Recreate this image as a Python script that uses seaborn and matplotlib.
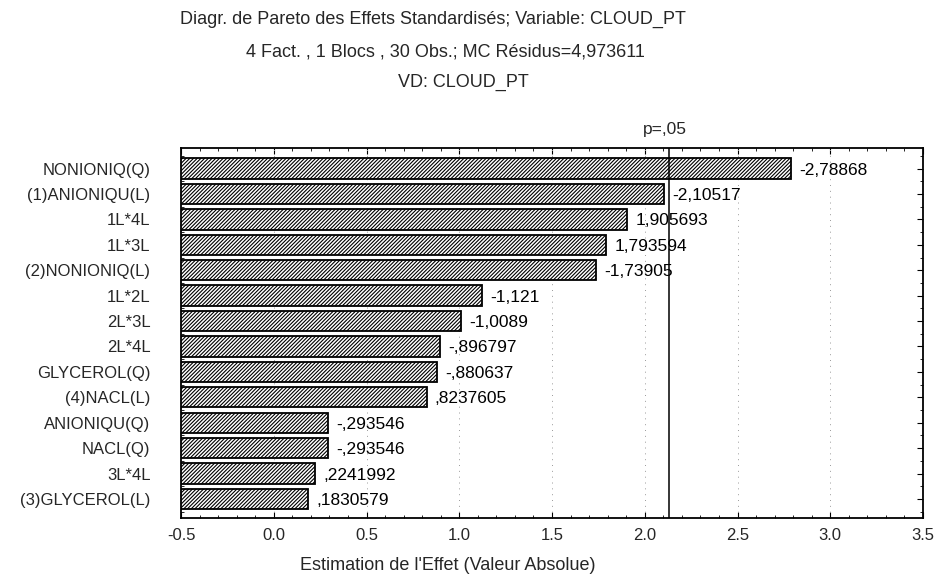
import numpy as np
import pandas as pd
import matplotlib
matplotlib.use("Agg")
import matplotlib.pyplot as plt
from matplotlib.ticker import MultipleLocator
import seaborn as sns

# Pareto chart of standardized effects (Statistica-style)
effects = [
    "NONIONIQ(Q)", "(1)ANIONIQU(L)", "1L*4L", "1L*3L", "(2)NONIONIQ(L)",
    "1L*2L", "2L*3L", "2L*4L", "GLYCEROL(Q)", "(4)NACL(L)",
    "ANIONIQU(Q)", "NACL(Q)", "3L*4L", "(3)GLYCEROL(L)",
]
t_values = [
    -2.78868, -2.10517, 1.905693, 1.793594, -1.73905,
    -1.121, -1.0089, -0.896797, -0.880637, 0.8237605,
    -0.293546, -0.293546, 0.2241992, 0.1830579,
]
x_ticks = [-0.5, 0.0, 0.5, 1.0, 1.5, 2.0, 2.5, 3.0, 3.5]
t_crit = 2.131  # p = .05, 15 residual df

title_lines = [
    "Diagr. de Pareto des Effets Standardisés; Variable: CLOUD_PT",
    "4 Fact. , 1 Blocs , 30 Obs.; MC Résidus=4,973611",
    "VD: CLOUD_PT",
]
x_label = "Estimation de l'Effet (Valeur Absolue)"


def stat_fmt(v):
    s = f"{v:.7g}"
    s = s.replace("-0.", "-.")
    if s.startswith("0."):
        s = s[1:]
    return s.replace(".", ",")


df = pd.DataFrame({"effect": effects, "t": t_values})
df["abs_t"] = df["t"].abs()

sns.set_theme(style="white")
plt.rcParams["font.family"] = ["Liberation Sans", "DejaVu Sans"]
plt.rcParams["hatch.linewidth"] = 0.8

fig = plt.figure(figsize=(9.34, 5.85), dpi=100)
ax = fig.add_axes([181 / 934, 1 - 518 / 585, (923 - 181) / 934, (518 - 148) / 585])

sns.barplot(data=df, y="effect", x="abs_t", orient="h", ax=ax,
            color="white", edgecolor="black", linewidth=1.3,
            hatch="/////////", width=0.8, zorder=3)

# anchor every bar to the left edge of the axis
x0 = x_ticks[0]
for p in ax.patches:
    w = p.get_x() + p.get_width()
    p.set_x(x0)
    p.set_width(w - x0)

for i, v in enumerate(df["t"]):
    ax.text(abs(v) + 0.045, i + 0.06, stat_fmt(v), va="center", ha="left",
            fontsize=12.5, color="black", zorder=4)

ax.axvline(t_crit, color="black", lw=1.1, zorder=5)
ax.text(t_crit - 0.02, -1.55, "p=,05", ha="center", va="center", fontsize=12.5)

ax.set_xlim(x_ticks[0], x_ticks[-1])
ax.set_ylim(len(effects) - 1 + 0.75, -0.81)
ax.set_xticks(x_ticks)
ax.set_xticklabels([f"{t:.1f}" for t in x_ticks])
ax.xaxis.set_minor_locator(MultipleLocator(0.1))
ax.set_yticks(range(len(effects)))
ax.yaxis.set_minor_locator(MultipleLocator(0.5))

for t in x_ticks[1:-1]:
    ax.axvline(t, color="#9a9a9a", lw=0.7, ls=(0, (1, 5)), zorder=1)

ax.tick_params(axis="both", which="both", direction="in", top=True, right=True,
               left=True, bottom=True, color="black")
ax.tick_params(axis="both", which="major", length=4, width=0.8)
ax.tick_params(axis="both", which="minor", length=2.5, width=0.6)
ax.tick_params(axis="x", labelsize=12, pad=7)
ax.tick_params(axis="y", labelsize=12, pad=22)
for s in ax.spines.values():
    s.set_color("black")
    s.set_linewidth(1.3)

ax.set_xlabel("")
ax.set_ylabel("")

for line, cxp, ypx in zip(title_lines, [433, 445, 463], [19, 52, 82]):
    fig.text(cxp / 934, 1 - ypx / 585, line, ha="center", va="center", fontsize=13)
fig.text(448 / 934, 1 - 566 / 585, x_label, ha="center", va="center", fontsize=13)

fig.savefig("out.png", dpi=100)
